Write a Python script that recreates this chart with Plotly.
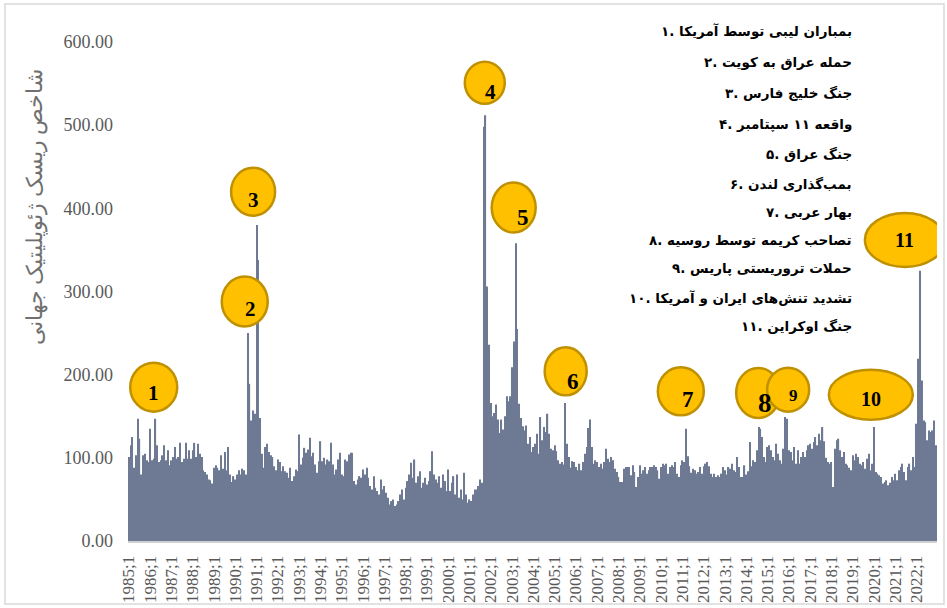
import plotly.graph_objects as go

# ---------------- data (monthly global geopolitical risk index) ----------------
years = list(range(1985, 2023))
gpr_1985 = [101, 115, 125, 88, 103, 147, 123, 80, 103, 105, 97, 95]
gpr_1986 = [135, 97, 99, 147, 115, 95, 97, 103, 115, 97, 109, 91]
gpr_1987 = [97, 101, 113, 99, 101, 118, 95, 99, 118, 99, 109, 99]
gpr_1988 = [109, 118, 101, 117, 105, 101, 85, 83, 80, 74, 73, 69]
gpr_1989 = [88, 91, 88, 85, 103, 87, 107, 85, 113, 80, 71, 78]
gpr_1990 = [74, 80, 85, 80, 87, 85, 80, 250, 189, 145, 157, 153]
gpr_1991 = [380, 338, 148, 105, 88, 113, 117, 107, 103, 101, 90, 85]
gpr_1992 = [98, 95, 84, 90, 84, 82, 76, 88, 72, 78, 86, 84]
gpr_1993 = [128, 92, 100, 112, 106, 110, 124, 102, 106, 92, 82, 96]
gpr_1994 = [120, 96, 100, 92, 98, 96, 118, 92, 80, 86, 98, 106]
gpr_1995 = [80, 78, 98, 96, 104, 106, 106, 72, 68, 74, 78, 76]
gpr_1996 = [86, 80, 88, 76, 66, 62, 78, 64, 60, 56, 74, 62]
gpr_1997 = [66, 58, 52, 44, 48, 50, 42, 44, 48, 56, 62, 50]
gpr_1998 = [64, 72, 80, 94, 76, 98, 70, 78, 84, 64, 70, 76]
gpr_1999 = [68, 72, 84, 108, 80, 74, 70, 78, 64, 80, 72, 60]
gpr_2000 = [86, 60, 70, 78, 56, 80, 52, 62, 50, 82, 56, 46]
gpr_2001 = [50, 48, 56, 62, 62, 66, 74, 70, 498, 512, 306, 236]
gpr_2002 = [166, 150, 154, 164, 146, 130, 146, 134, 150, 174, 168, 174]
gpr_2003 = [209, 240, 358, 255, 165, 148, 138, 133, 139, 117, 125, 107]
gpr_2004 = [113, 117, 129, 105, 149, 121, 137, 131, 153, 129, 111, 109]
gpr_2005 = [115, 108, 97, 93, 95, 92, 166, 117, 101, 88, 96, 95]
gpr_2006 = [89, 85, 93, 85, 95, 105, 113, 136, 146, 113, 93, 97]
gpr_2007 = [95, 89, 93, 87, 95, 111, 99, 95, 101, 97, 87, 83]
gpr_2008 = [77, 71, 71, 87, 89, 89, 89, 79, 91, 83, 65, 77]
gpr_2009 = [91, 81, 85, 89, 81, 85, 89, 89, 91, 89, 85, 75]
gpr_2010 = [89, 93, 91, 93, 81, 89, 91, 89, 95, 81, 77, 91]
gpr_2011 = [97, 95, 135, 102, 90, 82, 87, 85, 81, 83, 89, 81]
gpr_2012 = [90, 93, 95, 90, 81, 77, 81, 77, 79, 77, 81, 89]
gpr_2013 = [85, 80, 89, 87, 93, 85, 83, 101, 89, 77, 77, 91]
gpr_2014 = [80, 84, 119, 90, 97, 95, 109, 137, 135, 125, 101, 95]
gpr_2015 = [113, 115, 109, 101, 97, 117, 105, 97, 93, 111, 149, 147]
gpr_2016 = [109, 107, 97, 113, 93, 109, 93, 101, 107, 101, 109, 115]
gpr_2017 = [117, 111, 119, 125, 115, 129, 121, 137, 120, 100, 95, 93]
gpr_2018 = [95, 65, 111, 121, 123, 109, 101, 107, 93, 91, 88, 85]
gpr_2019 = [103, 97, 105, 101, 93, 91, 95, 87, 99, 105, 85, 93]
gpr_2020 = [137, 83, 81, 79, 77, 69, 71, 73, 67, 70, 77, 73]
gpr_2021 = [81, 73, 85, 89, 93, 83, 73, 89, 93, 85, 101, 89]
gpr_2022 = [141, 219, 325, 193, 145, 143, 121, 133, 131, 133, 145, 115]

yearly = [gpr_1985, gpr_1986, gpr_1987, gpr_1988, gpr_1989, gpr_1990, gpr_1991,
          gpr_1992, gpr_1993, gpr_1994, gpr_1995, gpr_1996, gpr_1997, gpr_1998,
          gpr_1999, gpr_2000, gpr_2001, gpr_2002, gpr_2003, gpr_2004, gpr_2005,
          gpr_2006, gpr_2007, gpr_2008, gpr_2009, gpr_2010, gpr_2011, gpr_2012,
          gpr_2013, gpr_2014, gpr_2015, gpr_2016, gpr_2017, gpr_2018, gpr_2019,
          gpr_2020, gpr_2021, gpr_2022]

categories = [f"{y};{m}" for y in years for m in range(1, 13)]
values = [v for yr in yearly for v in yr]
tick_labels = [f"{y};1" for y in years]

event_numbers = ["1", "2", "3", "4", "5", "6", "7", "8", "9", "10", "11"]
event_legend = [
    "۱. بمباران لیبی توسط آمریکا",
    "۲. حمله عراق به کویت",
    "۳. جنگ خلیج فارس",
    "۴. واقعه ۱۱ سپتامبر",
    "۵. جنگ عراق",
    "۶. بمب‌گذاری لندن",
    "۷. بهار عربی",
    "۸. تصاحب کریمه توسط روسیه",
    "۹. حملات تروریستی پاریس",
    "۱۰. تشدید تنش‌های ایران و آمریکا",
    "۱۱. جنگ اوکراین",
]
y_title = "شاخص ریسک ژئوپلیتیک جهانی"

# ---------------- layout helpers ----------------
W, H = 947, 608
ML, MR, MT, MB = 128, 10, 42, 67
PW, PH = W - ML - MR, H - MT - MB


def px_x(px):
    return (px - ML) / PW


def px_y(py):
    return (H - MB - py) / PH


# bubble placement: (category index, y value, width px, height px, text dx, text dy, font size)
bubbles = [
    (14.0, 185, 47, 49, 0, 6, 21),
    (65.3, 288, 46, 50, 6, 8, 21),
    (70.0, 420, 44, 48, 0, 8, 21),
    (200.6, 551, 40, 42, 6, 9, 21),
    (216.9, 401, 44, 50, 9, 10, 23),
    (246.2, 204, 42, 48, 7, 10, 23),
    (311.1, 180, 46, 48, 7, 8, 23),
    (354.7, 178, 44, 50, 7, 10, 27),
    (371.6, 182, 42, 44, 5, 6, 17),
    (418.2, 176, 84, 50, 0, 4, 20),
    (437.4, 362, 80, 54, 0, 0, 20),
]

fig = go.Figure()
fig.add_trace(go.Bar(
    x=categories, y=values,
    marker=dict(color="#6E7A94", line=dict(width=0)),
    hoverinfo="x+y",
))

shapes = []
annotations = []
for num, (ix, yv, w, h, dx, dy, fs) in zip(event_numbers, bubbles):
    shapes.append(dict(
        type="circle", xref="x", yref="y",
        xsizemode="pixel", ysizemode="pixel",
        xanchor=ix, yanchor=yv,
        x0=-w / 2, x1=w / 2, y0=-h / 2, y1=h / 2,
        fillcolor="#FFC000", line=dict(color="#BF9000", width=2.5),
        layer="above",
    ))
    annotations.append(dict(
        x=ix, y=yv, xref="x", yref="y", text=num, showarrow=False,
        xshift=dx, yshift=-dy,
        font=dict(family="Liberation Serif, Times New Roman, serif", size=fs,
                  color="black", weight="bold"),
    ))

legend_y = [31, 62, 93, 124, 154, 184, 212, 240, 268, 298, 326]
for txt, py in zip(event_legend, legend_y):
    annotations.append(dict(
        x=px_x(854), y=px_y(py), xref="paper", yref="paper",
        xanchor="right", yanchor="middle", text=txt, showarrow=False,
        font=dict(family="DejaVu Sans, Noto Sans, sans-serif", size=13.5,
                  color="black", weight="bold"),
    ))

annotations.append(dict(
    x=px_x(35), y=px_y(207), xref="paper", yref="paper",
    xanchor="center", yanchor="middle",
    text=y_title, textangle=-90, showarrow=False,
    font=dict(family="Liberation Serif, DejaVu Serif, serif", size=22, color="#707070"),
))

# outer frame
shapes.append(dict(type="rect", xref="paper", yref="paper",
                   x0=px_x(5), x1=px_x(944), y0=px_y(604), y1=px_y(4),
                   line=dict(color="#D9D9D9", width=1.5), layer="below"))

fig.update_layout(
    width=W, height=H,
    margin=dict(l=ML, r=MR, t=MT, b=MB, autoexpand=False),
    paper_bgcolor="white", plot_bgcolor="white",
    bargap=0.32, showlegend=False,
    shapes=shapes, annotations=annotations,
    xaxis=dict(
        type="category", tickmode="array", tickvals=tick_labels, ticktext=tick_labels,
        tickangle=-90, tickfont=dict(family="Liberation Serif, serif", size=17, color="#595959"),
        showline=True, linecolor="#D0D0D0", linewidth=2, ticks="", showgrid=False,
        ticklabelstandoff=6, range=[-0.5, len(categories) - 0.5], automargin=False,
    ),
    yaxis=dict(
        range=[0, 600], dtick=100, tickformat=".2f", showgrid=False, zeroline=False,
        tickfont=dict(family="Liberation Serif, serif", size=18, color="#595959"),
        ticks="", ticklabelstandoff=14, showline=False, automargin=False,
    ),
)

fig.write_html("out.html", config={"displayModeBar": False},
               post_script="document.body.style.margin='0px';document.body.style.padding='0px';")
